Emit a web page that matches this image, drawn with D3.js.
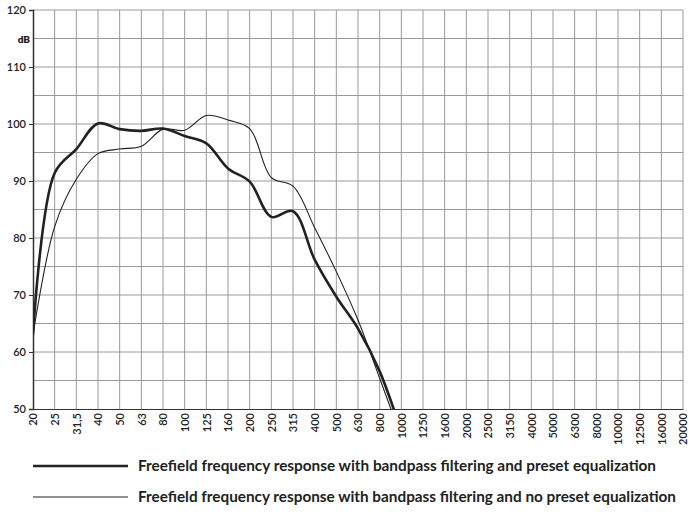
<!DOCTYPE html>
<html><head><meta charset="utf-8">
<script src="https://cdn.jsdelivr.net/npm/d3@7"></script>
<style>body{margin:0;background:#fff}svg{display:block}text{font-family:Lato,"Open Sans",sans-serif;fill:#222}</style>
</head><body>
<svg id="c" width="689" height="512"></svg>
<script>
const categories = ["20","25","31,5","40","50","63","80","100","125","160","200","250","315","400","500","630","800","1000","1250","1600","2000","2500","3150","4000","5000","6300","8000","10000","12500","16000","20000"];
const eqValues   = [63.0, 91.4, 95.6, 100.1, 99.1, 98.8, 99.2, 97.9, 96.6, 92.2, 89.9, 83.7, 84.7, 76.2, 69.7, 64.1, 56.6, 46.0];
const noEqValues = [63.0, 82.0, 90.3, 94.8, 95.6, 96.1, 99.1, 98.9, 101.5, 100.7, 99.2, 90.6, 89.1, 81.8, 74.1, 65.6, 55.4, 45.0];
const yTicks = [50, 60, 70, 80, 90, 100, 110, 120];
const seriesNames = ["Freefield frequency response with bandpass filtering and preset equalization",
                     "Freefield frequency response with bandpass filtering and no preset equalization"];

const svg = d3.select("#c");
const L = 33, R = 683, T = 10, B = 409;
const x = d3.scalePoint().domain(categories).range([L, R]);
const y = d3.scaleLinear().domain([50, 120]).range([B, T]);

// grid
const g = svg.append("g");
g.selectAll(".hg").data(d3.range(55, 121, 5)).join("line")
  .attr("x1", L).attr("x2", R).attr("y1", d => y(d)).attr("y2", d => y(d))
  .attr("stroke", "#9a9a9a").attr("stroke-width", 1);
g.selectAll(".vg").data(categories.slice(1)).join("line")
  .attr("x1", d => x(d)).attr("x2", d => x(d)).attr("y1", T).attr("y2", B)
  .attr("stroke", "#9a9a9a").attr("stroke-width", 1);

// y axis
const ya = svg.append("g").attr("transform", `translate(${L},0)`)
  .call(d3.axisLeft(y).tickValues(yTicks).tickSize(4).tickPadding(3));
ya.select(".domain").attr("stroke", "#333").attr("stroke-width", 1.5);
ya.selectAll(".tick line").attr("stroke", "#333");
ya.selectAll("text").style("font-size", "11px").style("font-weight", "600").attr("fill", "#222");
svg.append("text").attr("x", 30).attr("y", y(115) + 4).attr("text-anchor", "end")
  .style("font-size", "10px").style("font-weight", "800").text("dB");

// x axis
const xa = svg.append("g").attr("transform", `translate(0,${B})`)
  .call(d3.axisBottom(x).tickSize(0).tickPadding(0));
xa.select(".domain").attr("stroke", "#333").attr("stroke-width", 1.2);
xa.selectAll("text").attr("transform", "rotate(-90)").attr("text-anchor", "end")
  .attr("x", -4).attr("y", 0).attr("dy", "0.35em")
  .style("font-size", "11px").style("font-weight", "600").attr("fill", "#222");

// clip
svg.append("clipPath").attr("id", "pc").append("rect")
  .attr("x", L).attr("y", T).attr("width", R - L).attr("height", B - T);

const line = d3.line().x((d, i) => x(categories[i])).y(d => y(d)).curve(d3.curveCatmullRom.alpha(0.5));
const pg = svg.append("g").attr("clip-path", "url(#pc)");
pg.append("path").attr("d", line(noEqValues)).attr("fill", "none").attr("stroke", "#222").attr("stroke-width", 1.1);
pg.append("path").attr("d", line(eqValues)).attr("fill", "none").attr("stroke", "#222").attr("stroke-width", 2.6);

// legend
const leg = [{y: 466, w: 2.6, len: 518}, {y: 497, w: 1.1, len: 538}];
leg.forEach((l, i) => {
  svg.append("line").attr("x1", 33).attr("x2", 128).attr("y1", l.y).attr("y2", l.y)
    .attr("stroke", "#222").attr("stroke-width", l.w);
  svg.append("text").attr("x", 138).attr("y", l.y + 5)
    .attr("textLength", l.len).attr("lengthAdjust", "spacingAndGlyphs")
    .style("font-size", "14.5px").style("font-weight", "700").text(seriesNames[i]);
});
</script>
</body></html>
